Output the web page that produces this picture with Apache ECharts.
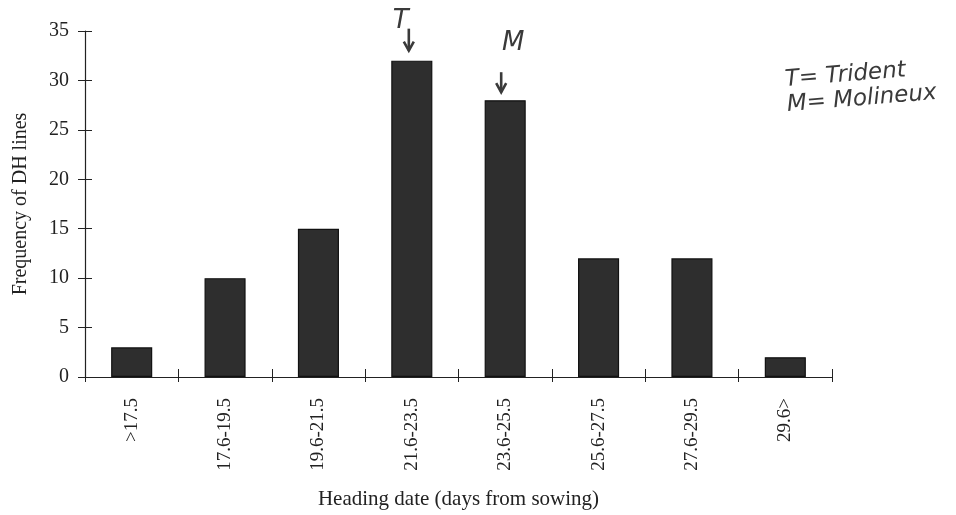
<!DOCTYPE html>
<html>
<head>
<meta charset="utf-8">
<script src="https://cdn.jsdelivr.net/npm/echarts@6/dist/echarts.min.js"></script>
<style>
  html, body { margin: 0; padding: 0; background: #fff; }
  #chart { width: 956px; height: 515px; }
</style>
</head>
<body>
<div id="chart"></div>
<script>
// Heading-date classes (days from sowing) and number of DH lines in each
const categories = ['>17.5', '17.6-19.5', '19.6-21.5', '21.6-23.5', '23.6-25.5', '25.6-27.5', '27.6-29.5', '29.6>'];
const frequencies = [3, 10, 15, 32, 28, 12, 12, 2];
const yTicks = { min: 0, max: 35, interval: 5 };

// Parent markers written above the histogram
const parentMarks = [
  { letter: 'T', category: '21.6-23.5', name: 'Trident' },
  { letter: 'M', category: '23.6-25.5', name: 'Molineux' }
];

const serif = '"Liberation Serif", "DejaVu Serif", serif';
const ink = '#222';
const pen = '#3a3a3a';

const chart = echarts.init(document.getElementById('chart'));

const axisLine = { show: true, lineStyle: { color: ink, width: 1.2 } };

chart.setOption({
  animation: false,
  backgroundColor: '#fff',
  grid: { left: 85, right: 124, top: 31, bottom: 137 },
  xAxis: [
    {
      type: 'category',
      data: categories,
      axisLine: axisLine,
      axisTick: { show: true, length: 5, lineStyle: { color: ink } },
      axisLabel: {
        rotate: 90, margin: 21, fontFamily: serif, fontSize: 19, color: ink
      },
      name: 'Heading date (days from sowing)',
      nameLocation: 'middle',
      nameGap: 112,
      nameTextStyle: { fontFamily: serif, fontSize: 21, color: ink }
    },
    {
      type: 'category',
      data: categories,
      position: 'bottom',
      axisLine: { show: false },
      axisTick: { show: true, inside: true, length: 8, lineStyle: { color: ink } },
      axisLabel: { show: false }
    }
  ],
  yAxis: [
    {
      type: 'value',
      min: yTicks.min, max: yTicks.max, interval: yTicks.interval,
      axisLine: axisLine,
      axisTick: { show: true, length: 7, lineStyle: { color: ink } },
      axisLabel: { margin: 16, fontFamily: serif, fontSize: 20, color: ink },
      splitLine: { show: false },
      name: 'Frequency of DH lines',
      nameLocation: 'middle',
      nameGap: 54,
      nameTextStyle: { fontFamily: serif, fontSize: 20, color: ink }
    },
    {
      type: 'value',
      position: 'left',
      min: yTicks.min, max: yTicks.max, interval: yTicks.interval,
      axisLine: { show: false },
      axisTick: { show: true, inside: true, length: 7, lineStyle: { color: ink } },
      axisLabel: { show: false },
      splitLine: { show: false }
    }
  ],
  series: [{
    type: 'bar',
    data: frequencies,
    barWidth: '44%',
    itemStyle: { color: '#2e2e2e', borderColor: '#111', borderWidth: 1.2 }
  }]
});

// Handwritten-style parent markers: letter with an arrow pointing at the bar top
const elements = [];
const handFont = 'italic 26px "DejaVu Sans", sans-serif';
parentMarks.forEach((p, i) => {
  const idx = categories.indexOf(p.category);
  const top = chart.convertToPixel({ seriesIndex: 0 }, [idx, frequencies[idx]]);
  const x = top[0] + (i === 0 ? -3 : -4);
  const tipY = top[1] - (i === 0 ? 10 : 8);
  const tailY = tipY - (i === 0 ? 22 : 20);
  elements.push({
    type: 'text',
    style: {
      text: p.letter,
      x: i === 0 ? x - 8 : x + 12,
      y: i === 0 ? tailY + 6 : tailY - 16,
      font: handFont, fill: pen, align: 'center', verticalAlign: 'bottom'
    }
  });
  elements.push({
    type: 'polyline',
    shape: { points: [[x, tailY], [x, tipY]] },
    style: { stroke: pen, lineWidth: 2.6, fill: null }
  });
  elements.push({
    type: 'polyline',
    shape: { points: [[x - 5, tipY - 9], [x, tipY], [x + 5, tipY - 9]] },
    style: { stroke: pen, lineWidth: 2.6, fill: null }
  });
});

// Key for the parent letters, at the right of the plot
parentMarks.forEach((p, i) => {
  const kx = 785 + i * 2;
  const ky = 80 + i * 25;
  elements.push({
    type: 'text',
    x: kx, y: ky,
    rotation: 0.08,
    style: {
      text: p.letter + '= ' + p.name,
      x: 0, y: 0,
      font: 'italic 23px "DejaVu Sans", sans-serif', fill: pen,
      align: 'left', verticalAlign: 'middle'
    }
  });
});

chart.setOption({ graphic: { elements: elements } });
</script>
</body>
</html>
